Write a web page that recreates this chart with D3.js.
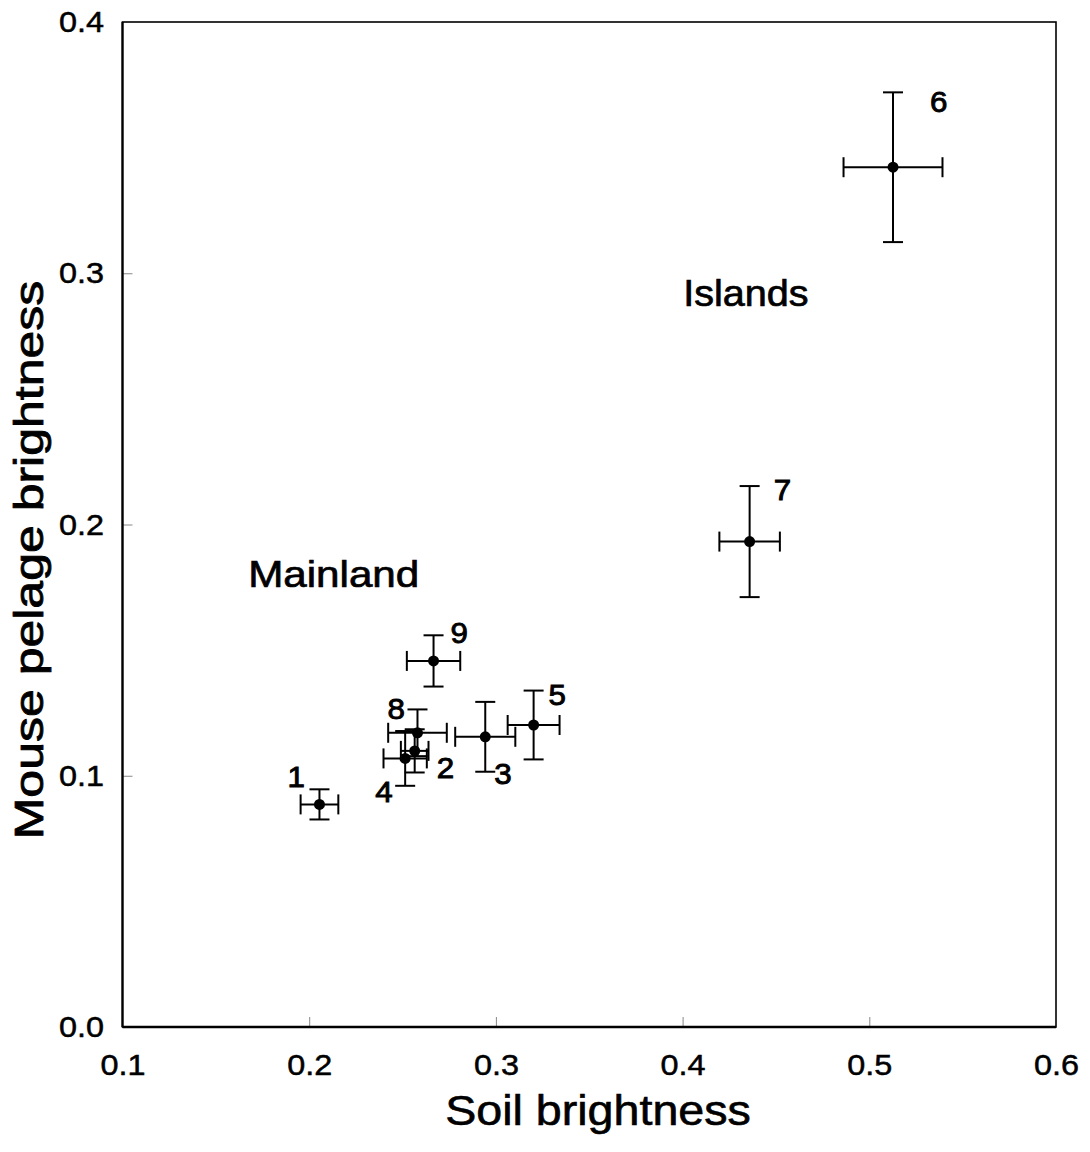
<!DOCTYPE html>
<html>
<head>
<meta charset="utf-8">
<script src="https://cdn.jsdelivr.net/npm/d3@7"></script>
<style>
  html, body { margin: 0; padding: 0; background: #fff; }
  text { font-family: 'Liberation Sans', Arial, Helvetica, sans-serif; fill: #000; }
</style>
</head>
<body>
<div id="chart"></div>
<script>
// site numbers
const sites = ['1', '2', '3', '4', '5', '6', '7', '8', '9']
// soil brightness (x) and its error
const soil = [0.2055, 0.2565, 0.2943, 0.2514, 0.3202, 0.5127, 0.4359, 0.2580, 0.2666]
const soilErr = [0.0101, 0.0074, 0.0161, 0.0116, 0.0139, 0.0265, 0.0162, 0.0157, 0.0143]
// mouse pelage brightness (y) and its error
const pelage = [0.0886, 0.1099, 0.1155, 0.1069, 0.1202, 0.3422, 0.1932, 0.1171, 0.1457]
const pelageErr = [0.006, 0.0086, 0.0139, 0.0109, 0.0137, 0.0298, 0.0221, 0.0093, 0.0102]

const xTicks = [0.1, 0.2, 0.3, 0.4, 0.5, 0.6]
const yTicks = [0.0, 0.1, 0.2, 0.3, 0.4]

const groups = [
  { name: 'Mainland', x: 0.1673, y: 0.1751, size: 37, stretch: 1.14 },
  { name: 'Islands', x: 0.4003, y: 0.287, size: 37, stretch: 1.07 },
]

// label offsets from each point, px
const labelOffsets = [
  [-32, -17], [22, 27], [9, 47], [-30, 44], [15, -20],
  [37, -55], [24, -42], [-30, -14], [17, -18],
]

const width = 1090
const height = 1152
const margins = { left: 122.5, top: 22, right: 34, bottom: 125 }

const svg = d3.select('#chart').append('svg')
  .attr('width', width)
  .attr('height', height)

const plotW = width - margins.left - margins.right
const plotH = height - margins.top - margins.bottom

const plot = svg.append('g')
  .attr('transform', `translate(${margins.left}, ${margins.top})`)

const x = d3.scaleLinear().domain([0.1, 0.6]).range([0, plotW])
const y = d3.scaleLinear().domain([0, 0.4]).range([plotH, 0])

const tickFmt = d3.format('.1f')

// axes (ticks point inward)
const xAxis = plot.append('g')
  .attr('transform', `translate(0, ${plotH})`)
  .call(d3.axisBottom(x).tickValues(xTicks).tickFormat(tickFmt)
    .tickSizeInner(-10).tickSizeOuter(0).tickPadding(27))

const yAxis = plot.append('g')
  .call(d3.axisLeft(y).tickValues(yTicks).tickFormat(tickFmt)
    .tickSizeInner(-10).tickSizeOuter(0).tickPadding(17))

for (const ax of [xAxis, yAxis]) {
  ax.select('.domain').remove()
  ax.selectAll('.tick line').attr('stroke', '#888').attr('stroke-width', 1)
  ax.selectAll('.tick text')
    .attr('font-size', 30)
    .attr('font-family', "'Liberation Sans', Arial, sans-serif")
    .attr('fill', '#000')
    .attr('stroke', '#000').attr('stroke-width', 0.5)
    .attr('transform', 'scale(1.08,1)')
}
xAxis.selectAll('.tick')
  .filter(d => d === 0.6 || d === 0.1)
  .select('line').remove()
yAxis.selectAll('.tick')
  .filter(d => d === 0 || d === 0.4)
  .select('line').remove()

// frame
plot.append('rect')
  .attr('x', 0).attr('y', 0)
  .attr('width', plotW).attr('height', plotH)
  .attr('fill', 'none')
  .attr('stroke', '#000')
  .attr('stroke-width', 1.6)
plot.append('line')
  .attr('x1', 0).attr('x2', 0).attr('y1', 0).attr('y2', plotH)
  .attr('stroke', '#000').attr('stroke-width', 2.2)
plot.append('line')
  .attr('x1', 0).attr('x2', plotW).attr('y1', plotH).attr('y2', plotH)
  .attr('stroke', '#000').attr('stroke-width', 2.6)

const data = sites.map((s, i) => ({
  site: s, x: soil[i], xe: soilErr[i], y: pelage[i], ye: pelageErr[i], off: labelOffsets[i],
}))

const cap = 10
const points = plot.selectAll('g.pt').data(data).enter()
  .append('g').attr('class', 'pt')
  .attr('stroke', '#000').attr('stroke-width', 2)

// horizontal error bars
points.append('line')
  .attr('x1', d => x(d.x - d.xe)).attr('x2', d => x(d.x + d.xe))
  .attr('y1', d => y(d.y)).attr('y2', d => y(d.y))
points.append('line')
  .attr('x1', d => x(d.x - d.xe)).attr('x2', d => x(d.x - d.xe))
  .attr('y1', d => y(d.y) - cap).attr('y2', d => y(d.y) + cap)
points.append('line')
  .attr('x1', d => x(d.x + d.xe)).attr('x2', d => x(d.x + d.xe))
  .attr('y1', d => y(d.y) - cap).attr('y2', d => y(d.y) + cap)

// vertical error bars
points.append('line')
  .attr('x1', d => x(d.x)).attr('x2', d => x(d.x))
  .attr('y1', d => y(d.y - d.ye)).attr('y2', d => y(d.y + d.ye))
points.append('line')
  .attr('x1', d => x(d.x) - cap).attr('x2', d => x(d.x) + cap)
  .attr('y1', d => y(d.y + d.ye)).attr('y2', d => y(d.y + d.ye))
points.append('line')
  .attr('x1', d => x(d.x) - cap).attr('x2', d => x(d.x) + cap)
  .attr('y1', d => y(d.y - d.ye)).attr('y2', d => y(d.y - d.ye))

points.append('circle')
  .attr('cx', d => x(d.x)).attr('cy', d => y(d.y))
  .attr('r', 5.5)
  .attr('fill', '#000').attr('stroke', 'none')

// site labels
plot.selectAll('text.site').data(data).enter()
  .append('text')
  .attr('class', 'site')
  .attr('font-size', 29)
  .attr('stroke', '#000').attr('stroke-width', 0.9)
  .attr('transform', d =>
    `translate(${x(d.x) + d.off[0]}, ${y(d.y) + d.off[1]}) scale(1.08,1)`)
  .text(d => d.site)

// group annotations
plot.selectAll('text.group').data(groups).enter()
  .append('text')
  .attr('class', 'group')
  .attr('font-size', d => d.size)
  .attr('stroke', '#000').attr('stroke-width', 0.7)
  .attr('transform', d => `translate(${x(d.x)}, ${y(d.y)}) scale(${d.stretch},1)`)
  .text(d => d.name)

// axis titles
svg.append('text')
  .attr('text-anchor', 'middle')
  .attr('font-size', 42)
  .attr('stroke', '#000').attr('stroke-width', 0.6)
  .attr('transform', 'translate(598, 1125) scale(1.11,1)')
  .text('Soil brightness')

svg.append('text')
  .attr('text-anchor', 'middle')
  .attr('font-size', 40)
  .attr('stroke', '#000').attr('stroke-width', 0.8)
  .attr('transform', 'translate(43, 560) rotate(-90) scale(1.25,1)')
  .text('Mouse pelage brightness')
</script>
</body>
</html>
